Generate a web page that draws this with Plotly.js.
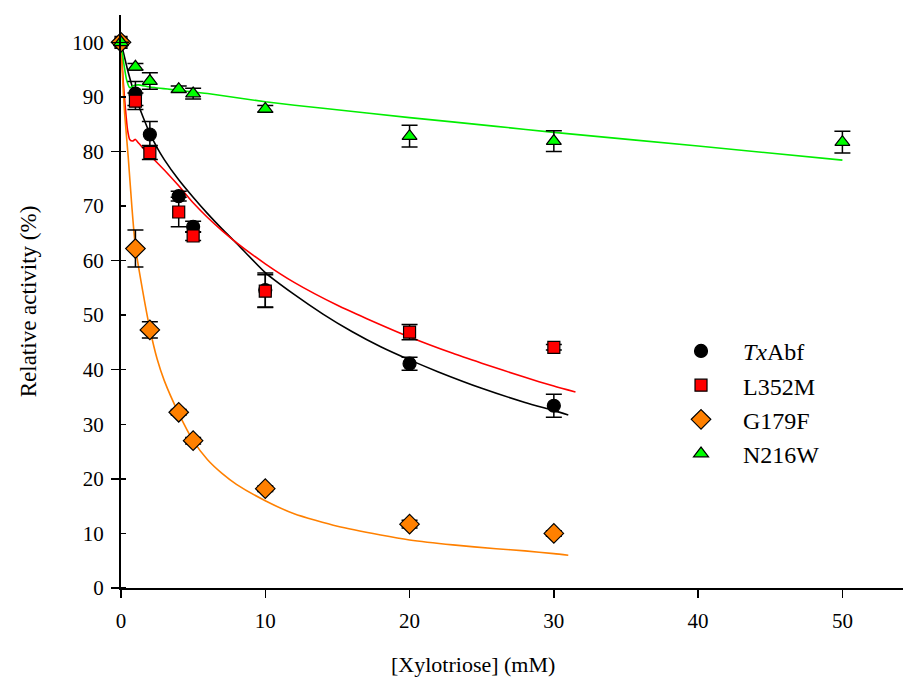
<!DOCTYPE html>
<html>
<head>
<meta charset="utf-8">
<script src="https://cdn.plot.ly/plotly-3.0.1.min.js"></script>
<style>html,body{margin:0;padding:0;background:#fff;}#chart{width:904px;height:682px;}</style>
</head>
<body>
<div id="chart"></div>
<script>
// Measured points
var xPts = [0, 1, 2, 4, 5, 10, 20, 30];
var txabfY   = [100, 90.6, 83.1, 71.8, 66.2, 54.6, 41.1, 33.4];
var txabfErr = [0, 2.2, 2.4, 0.9, 1.0, 3.1, 1.2, 2.1];
var l352mY   = [100, 89.2, 79.8, 68.9, 64.5, 54.4, 46.9, 44.1];
var l352mErr = [0, 1.5, 1.3, 2.7, 0.8, 3.0, 1.4, 0.5];
var g179fY   = [100, 62.2, 47.3, 32.2, 27.0, 18.2, 11.7, 10.0];
var g179fErr = [0, 3.4, 1.5, 0.5, 0.6, 0.5, 0.7, 0.5];
var xN = [0, 1, 2, 4, 5, 10, 20, 30, 50];
var n216wY   = [100, 95.5, 92.9, 91.4, 90.6, 87.8, 82.8, 81.9, 81.7];
var n216wErr = [0, 0.6, 1.5, 0.6, 1.0, 0.6, 2.0, 1.9, 2.0];

// Fitted curves
var txFitX = [0, 0.5, 1, 1.5, 2, 2.5, 3, 4, 5, 6, 7, 8, 10, 12, 14, 16, 18, 20, 22, 25, 28, 30, 31];
var txFitY = [100, 94.5, 90, 86.5, 83.3, 80.7, 78.5, 74.8, 71.6, 68.6, 65.8, 63.2, 57.8, 53.8, 50.2, 47.0, 44.2, 41.8, 39.6, 36.6, 34.0, 32.5, 31.7];
var lmFitX = [0, 0.15, 0.3, 0.45, 0.6, 0.8, 1.0, 1.2, 1.6, 2, 3, 4, 5, 6, 7, 8, 10, 12, 15, 17, 20, 23, 25, 28, 30, 31.5];
var lmFitY = [100, 93, 88, 84, 82.2, 81.9, 82.2, 81.6, 80.4, 79.3, 76.6, 73.7, 70.6, 67.9, 65.5, 63.3, 59.4, 56.0, 51.8, 49.4, 46.0, 43.0, 41.2, 38.6, 37.0, 35.9];
var gfFitX = [0, 0.1, 0.25, 0.5, 0.75, 1, 1.5, 2, 2.5, 3, 4, 5, 6, 7, 8, 10, 12, 15, 18, 20, 23, 26, 28, 30, 31];
var gfFitY = [100, 94, 87, 79, 70, 62.5, 54.5, 47.5, 42, 38, 32, 27, 23.5, 21, 19, 16, 13.6, 11.3, 9.7, 8.8, 7.9, 7.2, 6.8, 6.3, 6.0];
var nwFitX = [0, 0.2, 0.4, 0.6, 0.9, 1.2, 2, 4, 6, 10, 14, 20, 26, 30, 40, 50];
var nwFitY = [100, 96, 93, 91.7, 92.1, 92.2, 91.8, 91.2, 90.6, 89.1, 87.9, 86.2, 84.6, 83.5, 81.0, 78.4];

var names = ['<i>Tx</i>Abf', 'L352M', 'G179F', 'N216W'];
var xTitle = '[Xylotriose] (mM)';
var yTitle = 'Relative activity (%)';

var font = 'Liberation Serif, Times New Roman, serif';
function fit(x, y, c) {
  return {x: x, y: y, mode: 'lines', line: {color: c, width: 1.6, shape: 'spline', smoothing: 0.6},
          showlegend: false, hoverinfo: 'skip', cliponaxis: false};
}
function pts(x, y, e, name, sym, fill, size) {
  return {x: x, y: y, name: name, mode: 'markers', cliponaxis: false,
          marker: {symbol: sym, color: fill, size: size, line: {color: '#000', width: 1.2}},
          error_y: {type: 'data', array: e, visible: true, color: '#000', thickness: 1.5, width: 8}};
}
var data = [
  fit(txFitX, txFitY, '#000000'),
  fit(lmFitX, lmFitY, '#ff0000'),
  fit(gfFitX, gfFitY, '#ff8000'),
  fit(nwFitX, nwFitY, '#00ee00'),
  pts(xPts, txabfY, txabfErr, names[0], 'circle', '#000000', 13),
  pts(xPts, l352mY, l352mErr, names[1], 'square', '#ff0000', 12),
  pts(xPts, g179fY, g179fErr, names[2], 'diamond', '#ff8000', 15),
  pts(xN, n216wY, n216wErr, names[3], 'triangle-up', '#00ff00', 13),
  {x: [0], y: [0], yaxis: 'y2', mode: 'markers', marker: {opacity: 0}, showlegend: false, hoverinfo: 'skip'}
];
var layout = {
  width: 904, height: 682,
  margin: {l: 121, r: 1, t: 15, b: 94},
  paper_bgcolor: '#fff', plot_bgcolor: '#fff',
  font: {family: font, color: '#000', size: 21},
  showlegend: true,
  legend: {x: 0.688, y: 0.324, xanchor: 'left', yanchor: 'middle', font: {family: font, size: 24, color: '#000'},
           bgcolor: 'rgba(0,0,0,0)', itemwidth: 74},
  xaxis: {range: [0, 54.2], showgrid: false, zeroline: false, showline: true, linecolor: '#000', linewidth: 2,
          tick0: 0, dtick: 10, ticks: 'outside', ticklen: 8, tickwidth: 1.5, tickcolor: '#000',
          tickfont: {family: font, size: 21}, ticklabelstandoff: 5},
  yaxis: {range: [0, 105], showgrid: false, zeroline: false, showline: true, linecolor: '#000', linewidth: 2,
          tick0: 0, dtick: 10, ticks: '', tickfont: {family: font, size: 21}, ticklabelstandoff: 11,
          title: {text: yTitle, font: {family: font, size: 23}, standoff: 29}},
  yaxis2: {range: [0, 105], overlaying: 'y', side: 'left', showgrid: false, zeroline: false, showline: false,
           showticklabels: false, tick0: 0, dtick: 20, ticks: 'outside', ticklen: 9, tickwidth: 1.5, tickcolor: '#000',
           minor: {dtick: 10, ticks: 'inside', ticklen: 5, tickwidth: 1.5, tickcolor: '#000', showgrid: false}},
  annotations: [{text: xTitle, xref: 'x', yref: 'paper', x: 24.4, y: -0.134, xanchor: 'center', yanchor: 'middle',
                 showarrow: false, font: {family: font, size: 22, color: '#000'}}]
};
Plotly.newPlot('chart', data, layout, {displayModeBar: false, staticPlot: true});
</script>
</body>
</html>
